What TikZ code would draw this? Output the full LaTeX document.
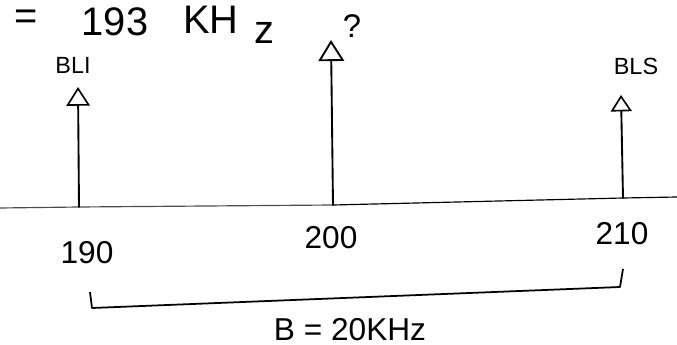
\documentclass[tikz,border=0pt]{standalone}
\usepackage{fontspec}
\setmainfont{Liberation Sans}
\usetikzlibrary{arrows.meta}
\begin{document}
\begin{tikzpicture}[x=0.3mm,y=-0.3mm,
  spikeline/.style={line width=1.6pt, line cap=round},
  lbl/.style={inner sep=0pt, anchor=base},
  bigtext/.style={lbl, font=\fontsize{34}{36}\selectfont},
  numtext/.style={lbl, font=\fontsize{27}{30}\selectfont},
  sidetext/.style={lbl, font=\fontsize{20}{22}\selectfont},
  axisline/.style={line width=1pt},
  bracketline/.style={line width=1.5pt, line join=round}]
\useasboundingbox (0,0) rectangle (677,345);

% top text
\node[bigtext] (eq) at (26,30) {=};
\node[bigtext] (val) at (115,36) {193};
\node[bigtext] (kh) at (211,34) {KH};
\node[bigtext] (zz) at (264,44) {z};
\node[lbl, font=\fontsize{28}{30}\selectfont] (qm) at (352,38) {?};

% axis
\coordinate (axL) at (0,208);
\coordinate (b1) at (79,207);
\coordinate (b2) at (333,205);
\coordinate (b3) at (623,198);
\coordinate (axR) at (677,197);
\draw[axisline, black!70] (axL) -- (b1) -- (b2);
\draw[axisline] (b2) -- (b3) -- (axR);

% spikes
\coordinate (t1) at (78,87);
\coordinate (t2) at (331,40);
\coordinate (t3) at (621,95);
\draw[spikeline, -{Triangle[open,length=16pt,width=20pt,line width=1.4pt]}] (b1) -- (t1);
\draw[spikeline, -{Triangle[open,length=18pt,width=22pt,line width=1.6pt]}] (b2) -- (t2);
\draw[spikeline, -{Triangle[open,length=14pt,width=18pt,line width=1.4pt]}] (b3) -- (t3);

% side labels
\node[sidetext] (bli) at (73,74) {BLI};
\node[sidetext] (bls) at (636,75) {BLS};

% frequency labels
\node[numtext] (f190) at (87,264) {190};
\node[numtext] (f200) at (331,249) {200};
\node[numtext] (f210) at (622,245) {210};

% bracket
\coordinate (k1) at (90,292);
\coordinate (k2) at (92,308);
\coordinate (k3) at (620,287);
\coordinate (k4) at (623,269);
\draw[bracketline] (k1) -- (k2) -- (k3) -- (k4);

\node[numtext] (bw) at (350,340) {B = 20KHz};
\end{tikzpicture}
\end{document}
